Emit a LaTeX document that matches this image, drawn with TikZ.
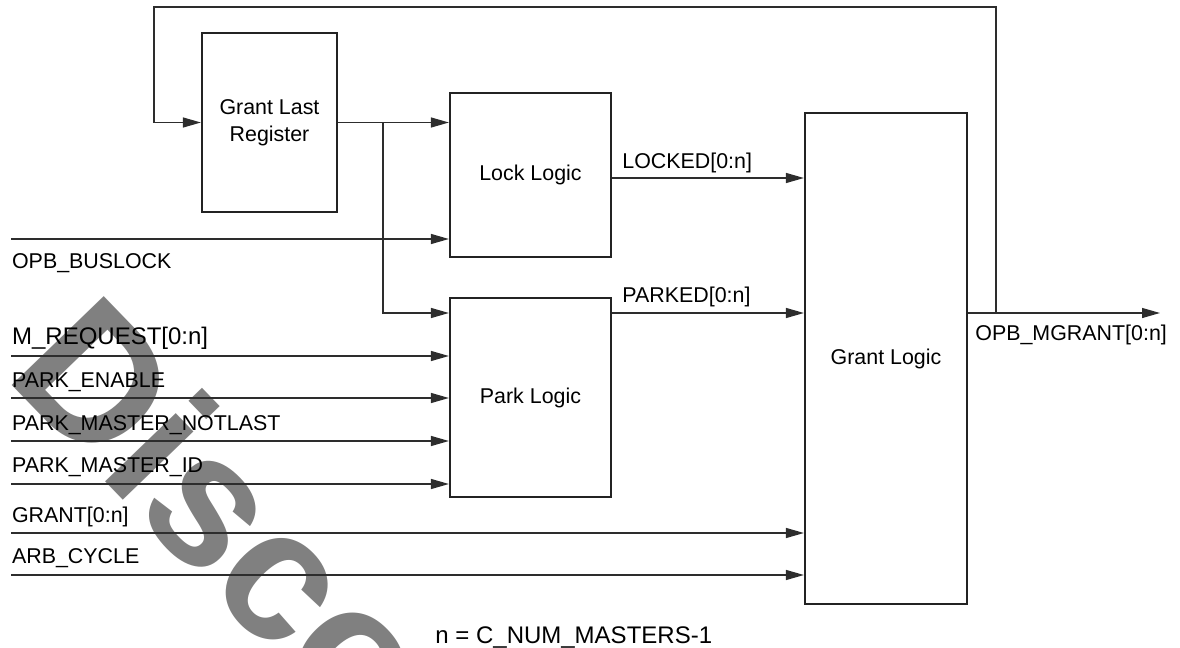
\documentclass[tikz,border=0pt]{standalone}
\usepackage{fontspec}
\setmainfont{Liberation Sans}
\usetikzlibrary{arrows.meta}
\definecolor{wmgray}{RGB}{128,128,128}
\definecolor{wirecol}{RGB}{45,45,45}
\definecolor{boxcol}{RGB}{35,35,35}
\begin{document}
\begin{tikzpicture}[x=0.5pt,y=-0.5pt,
  wire/.style={draw=wirecol, line width=0.65pt},
  arr/.style={wire, -{Triangle[length=9pt,width=5pt]}},
  blk/.style={draw=boxcol, line width=1.1pt, inner sep=0pt, align=center,
              font=\fontsize{10.7}{13.5}\selectfont},
  lbl/.style={inner sep=0pt, anchor=base west, font=\fontsize{10.7}{13}\selectfont},
  biglbl/.style={inner sep=0pt, anchor=base west, font=\fontsize{12}{14}\selectfont},
  wm/.style={inner sep=0pt, anchor=base west, rotate=-46, text=wmgray,
             font=\fontsize{93}{93}\selectfont\bfseries}]
\useasboundingbox (0,0) rectangle (1180,648);
% watermark
\begin{scope}
  \clip (0,0) rectangle (1180,648);
  \node[wm] (wmark) at (3,376) {Disco};
\end{scope}
% blocks
\node[blk, minimum width=67.5pt, minimum height=89.5pt] (glr) at (269.5,122.5) {Grant Last\\Register};
\node[blk, minimum width=80.5pt, minimum height=82pt] (lock) at (530.5,175) {Lock Logic};
\node[blk, minimum width=80.5pt, minimum height=99.5pt] (park) at (530.5,397.5) {Park Logic};
\node[blk, minimum width=81pt, minimum height=245.5pt] (grant) at (886,358.5) {Grant Logic};
% coordinates
\coordinate (tap) at (996,313);
\coordinate (fbL) at (154,7);
\coordinate (br) at (383,123);
\coordinate (outE) at (1160,313);
\coordinate (iBus) at (11,239);
\coordinate (iReq) at (11,356);
\coordinate (iEn) at (11,398);
\coordinate (iNl) at (11,441);
\coordinate (iId) at (11,484);
\coordinate (iGr) at (11,533);
\coordinate (iArb) at (11,575);
% connectors
\draw[arr] (tap) |- (fbL) |- (glr.west);
\draw[arr] (glr.east) -- (glr.east -| lock.west);
\draw[arr] (br) |- (park.west |- 0,313);
\draw[arr] (iBus) -- (iBus -| lock.west);
\draw[arr] (iReq) -- (iReq -| park.west);
\draw[arr] (iEn) -- (iEn -| park.west);
\draw[arr] (iNl) -- (iNl -| park.west);
\draw[arr] (iId) -- (iId -| park.west);
\draw[arr] (iGr) -- (iGr -| grant.west);
\draw[arr] (iArb) -- (iArb -| grant.west);
\draw[arr] (lock.east |- 0,178) -- (grant.west |- 0,178);
\draw[arr] (park.east |- 0,313) -- (grant.west |- 0,313);
\draw[arr] (grant.east |- 0,313) -- (outE);
% labels
\node[lbl] (lBus) at (11.7,268) {OPB\_BUSLOCK};
\node[biglbl] (lReq) at (11.7,344) {M\_REQUEST[0:n]};
\node[lbl] (lEn) at (11.7,387) {PARK\_ENABLE};
\node[lbl] (lNl) at (11.7,430) {PARK\_MASTER\_NOTLAST};
\node[lbl] (lId) at (11.7,472) {PARK\_MASTER\_ID};
\node[lbl] (lGr) at (11.7,522) {GRANT[0:n]};
\node[lbl] (lArb) at (11.7,563) {ARB\_CYCLE};
\node[lbl] (lLock) at (622,168) {LOCKED[0:n]};
\node[lbl] (lPark) at (622,302) {PARKED[0:n]};
\node[lbl] (lOut) at (975,340) {OPB\_MGRANT[0:n]};
\node[biglbl] (note) at (435,643) {n = C\_NUM\_MASTERS-1};
\end{tikzpicture}
\end{document}
